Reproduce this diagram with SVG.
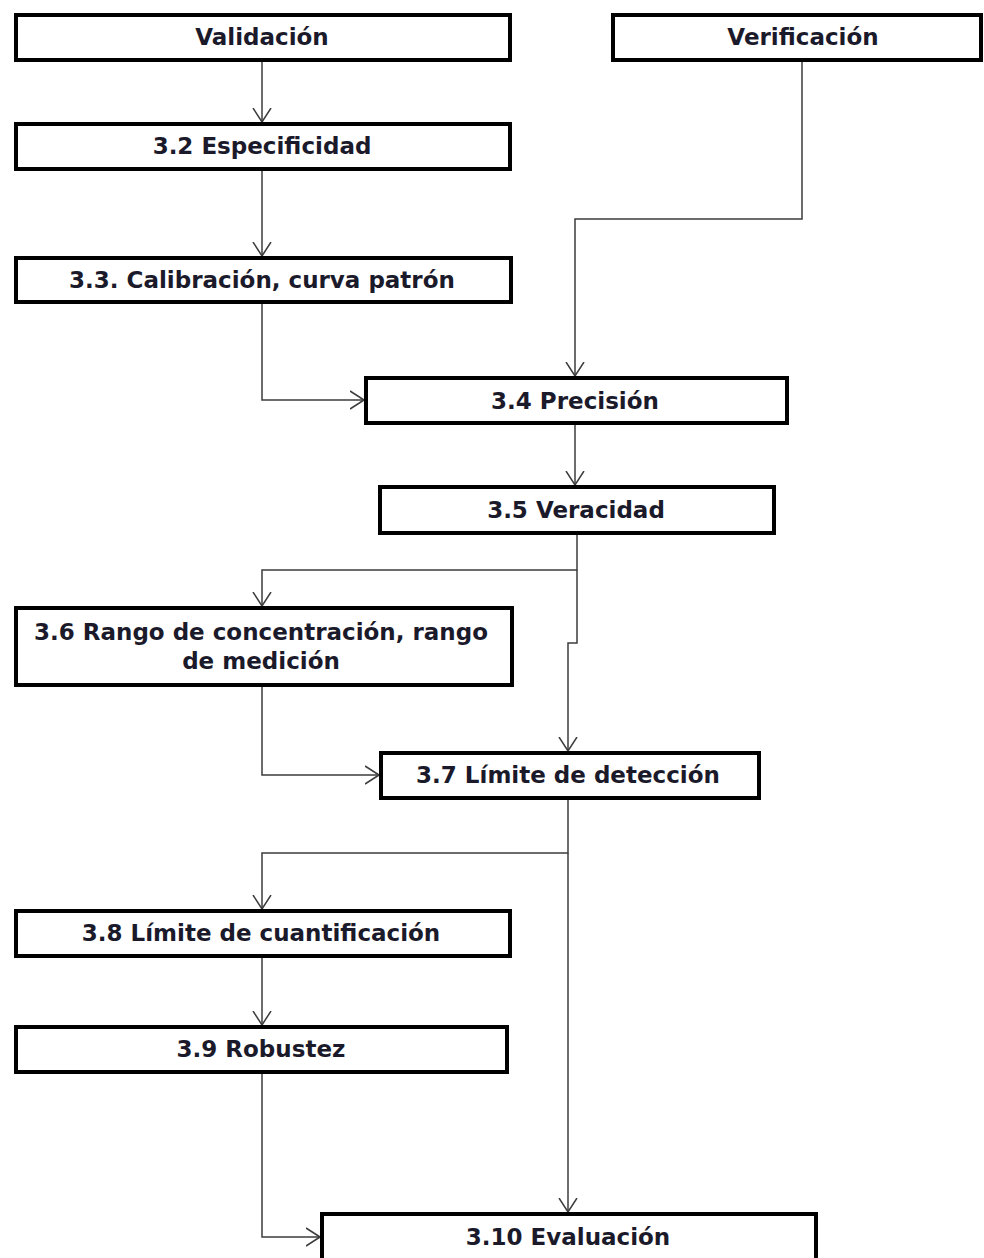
<svg xmlns="http://www.w3.org/2000/svg" width="984" height="1258" viewBox="0 0 984 1258">
<style>
.box{fill:#ffffff;stroke:#000000;stroke-width:4}
.lbl{font-family:"DejaVu Sans",Verdana,sans-serif;font-weight:bold;font-size:23px;fill:#1b1a2b;text-anchor:middle}
.con{fill:none;stroke:#3c3c3c;stroke-width:1.5}
</style>
<defs>
<marker id="arr" viewBox="0 0 14 20" refX="14" refY="10" markerWidth="14" markerHeight="20" markerUnits="userSpaceOnUse" orient="auto">
<path d="M0,1 L14,10 L0,19" fill="none" stroke="#3c3c3c" stroke-width="1.5"/>
</marker>
</defs>
<rect width="984" height="1258" fill="#ffffff"/>
<g id="connectors">
<path class="con" d="M262,62 V122" marker-end="url(#arr)"/>
<path class="con" d="M262,171 V256" marker-end="url(#arr)"/>
<path class="con" d="M802,62 V219 H575 V376" marker-end="url(#arr)"/>
<path class="con" d="M262,304 V400 H364" marker-end="url(#arr)"/>
<path class="con" d="M575,425 V485" marker-end="url(#arr)"/>
<path class="con" d="M577,535 V570 H262 V606" marker-end="url(#arr)"/>
<path class="con" d="M577,570 V643 H568 V751" marker-end="url(#arr)"/>
<path class="con" d="M262,687 V775 H379" marker-end="url(#arr)"/>
<path class="con" d="M568,800 V853 H262 V909" marker-end="url(#arr)"/>
<path class="con" d="M568,853 V1212" marker-end="url(#arr)"/>
<path class="con" d="M262,958 V1025" marker-end="url(#arr)"/>
<path class="con" d="M262,1074 V1237 H320" marker-end="url(#arr)"/>
</g>
<g id="validacion">
<rect class="box" x="16" y="15" width="494" height="45"/>
<text class="lbl" x="262" y="45">Validación</text>
</g>
<g id="verificacion">
<rect class="box" x="613" y="15" width="368" height="45"/>
<text class="lbl" x="803" y="45">Verificación</text>
</g>
<g id="n32">
<rect class="box" x="16" y="124" width="494" height="45"/>
<text class="lbl" x="262" y="154">3.2 Especificidad</text>
</g>
<g id="n33">
<rect class="box" x="16" y="258" width="495" height="44"/>
<text class="lbl" x="262" y="288">3.3. Calibración, curva patrón</text>
</g>
<g id="n34">
<rect class="box" x="366" y="378" width="421" height="45"/>
<text class="lbl" x="575" y="409">3.4 Precisión</text>
</g>
<g id="n35">
<rect class="box" x="380" y="487" width="394" height="46"/>
<text class="lbl" x="576" y="518">3.5 Veracidad</text>
</g>
<g id="n36">
<rect class="box" x="16" y="608" width="496" height="77"/>
<text class="lbl" x="261" y="640">3.6 Rango de concentración, rango</text>
<text class="lbl" x="261" y="669">de medición</text>
</g>
<g id="n37">
<rect class="box" x="381" y="753" width="378" height="45"/>
<text class="lbl" x="568" y="783">3.7 Límite de detección</text>
</g>
<g id="n38">
<rect class="box" x="16" y="911" width="494" height="45"/>
<text class="lbl" x="261" y="941">3.8 Límite de cuantificación</text>
</g>
<g id="n39">
<rect class="box" x="16" y="1027" width="491" height="45"/>
<text class="lbl" x="261" y="1057">3.9 Robustez</text>
</g>
<g id="n310">
<rect class="box" x="322" y="1214" width="494" height="60"/>
<text class="lbl" x="568" y="1245">3.10 Evaluación</text>
</g>
</svg>
